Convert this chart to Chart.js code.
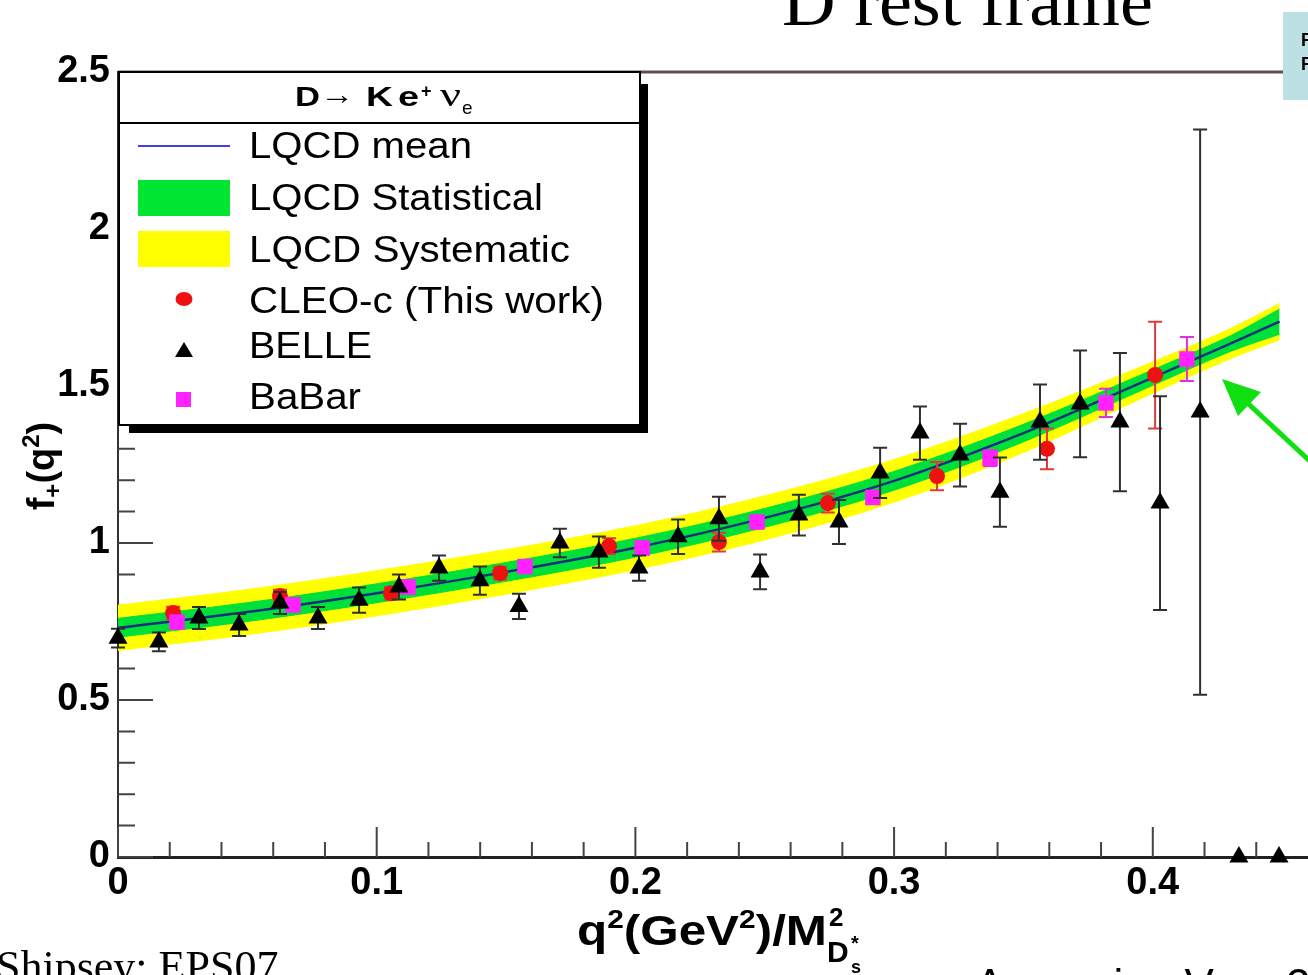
<!DOCTYPE html>
<html><head><meta charset="utf-8">
<script src="https://cdn.jsdelivr.net/npm/chart.js@4.4.1/dist/chart.umd.min.js"></script>
<style>
html,body{margin:0;padding:0;background:#fff;}
#wrap{position:relative;width:1308px;height:975px;overflow:hidden;background:#fff;}
#c{position:absolute;left:0;top:0;}
#ov{position:absolute;left:0;top:0;pointer-events:none;}
</style></head><body>
<div id="wrap">
<canvas id="c" width="1308" height="975"></canvas>
<svg id="ov" width="1308" height="975" xmlns="http://www.w3.org/2000/svg">
  <!-- slide texts -->
  <text x="782" y="25" font-family="'Liberation Serif','Times New Roman',serif" font-size="70" textLength="371" lengthAdjust="spacingAndGlyphs">D rest frame</text>
  <text x="-4" y="981" font-family="'Liberation Serif','Times New Roman',serif" font-size="44">Shipsey: EPS07</text>
  <text x="975" y="1000" font-family="'Liberation Sans',Arial,sans-serif" font-size="44">Averaging V<tspan font-size="28" dy="8">cs</tspan><tspan x="1286" dy="-8">2</tspan></text>
  <rect x="1283" y="12" width="30" height="88" fill="#bde0e4"/>
  <text x="1301" y="46" font-family="'Liberation Sans',Arial,sans-serif" font-weight="bold" font-size="18">F</text>
  <text x="1301" y="70" font-family="'Liberation Sans',Arial,sans-serif" font-weight="bold" font-size="18">F</text>
  <!-- arrow -->
  <line x1="1314" y1="465" x2="1240" y2="396" stroke="#10e010" stroke-width="5"/>
  <polygon points="1222,379 1238,416 1261,392" fill="#10e010"/>
  <!-- legend -->
  <rect x="129" y="84" width="519" height="349" fill="#000"/>
  <rect x="119" y="72" width="521" height="353" fill="#fff" stroke="#000" stroke-width="2"/>
  <line x1="119" y1="123" x2="640" y2="123" stroke="#000" stroke-width="2"/>
  <g font-family="'Liberation Sans',Arial,sans-serif" font-weight="bold" font-size="28">
    <text x="295" y="106" textLength="25" lengthAdjust="spacingAndGlyphs">D</text>
    <text x="320" y="104" font-weight="normal" textLength="34" lengthAdjust="spacingAndGlyphs">→</text>
    <text x="366" y="106" textLength="27" lengthAdjust="spacingAndGlyphs">K</text>
    <text x="398" y="106" textLength="21" lengthAdjust="spacingAndGlyphs">e</text>
    <text x="421" y="97" font-size="18">+</text>
    <text x="440" y="106" font-weight="normal" font-family="'Liberation Serif',serif" font-size="34" textLength="21" lengthAdjust="spacingAndGlyphs">ν</text>
    <text x="462" y="114" font-size="19" font-weight="normal">e</text>
  </g>
  <g font-family="'Liberation Sans',Arial,sans-serif" font-size="37">
    <text x="249" y="158" textLength="223" lengthAdjust="spacingAndGlyphs">LQCD mean</text>
    <text x="249" y="210" textLength="294" lengthAdjust="spacingAndGlyphs">LQCD Statistical</text>
    <text x="249" y="262" textLength="321" lengthAdjust="spacingAndGlyphs">LQCD Systematic</text>
    <text x="249" y="313" textLength="355" lengthAdjust="spacingAndGlyphs">CLEO-c (This work)</text>
    <text x="249" y="358" textLength="123" lengthAdjust="spacingAndGlyphs">BELLE</text>
    <text x="249" y="409" textLength="112" lengthAdjust="spacingAndGlyphs">BaBar</text>
  </g>
  <line x1="138" y1="146" x2="230" y2="146" stroke="#4040e0" stroke-width="2"/>
  <rect x="138" y="180" width="92" height="36" fill="#00e632"/>
  <rect x="138" y="231" width="92" height="36" fill="#ffff00"/>
  <ellipse cx="184" cy="299" rx="8.5" ry="7" fill="#ee1111"/>
  <polygon points="184,342 175,357 193,357" fill="#000"/>
  <rect x="176" y="392" width="15" height="15" fill="#ff22ff"/>
  <!-- axis titles -->
  <text transform="translate(54,466) rotate(-90)" text-anchor="middle" font-family="'Liberation Sans',Arial,sans-serif" font-weight="bold" font-size="38">f<tspan font-size="24" dy="7">+</tspan><tspan dy="-7">(q</tspan><tspan font-size="24" dy="-15">2</tspan><tspan dy="15">)</tspan></text>
  <g id="xtg" font-family="'Liberation Sans',Arial,sans-serif" font-weight="bold">
    <text id="xt" x="577" y="945" font-size="43" textLength="250" lengthAdjust="spacingAndGlyphs">q<tspan font-size="26" dy="-17">2</tspan><tspan dy="17">(GeV</tspan><tspan font-size="26" dy="-17">2</tspan><tspan dy="17">)/M</tspan></text>
  </g>
</svg>
</div>
<script>
// ---------- data ----------
const bandX     = [0, 0.05, 0.10, 0.15, 0.20, 0.25, 0.30, 0.35, 0.40, 0.43, 0.449];
const meanY     = [0.730, 0.780, 0.840, 0.908, 0.985, 1.080, 1.198, 1.350, 1.527, 1.635, 1.705];
const sysLow    = [0.658, 0.708, 0.768, 0.837, 0.915, 1.010, 1.130, 1.288, 1.477, 1.587, 1.647];
const sysHigh   = [0.802, 0.852, 0.912, 0.979, 1.055, 1.150, 1.266, 1.412, 1.577, 1.683, 1.763];
const statLow   = [0.700, 0.750, 0.810, 0.878, 0.955, 1.050, 1.168, 1.322, 1.502, 1.610, 1.665];
const statHigh  = [0.760, 0.810, 0.870, 0.938, 1.015, 1.110, 1.228, 1.378, 1.552, 1.660, 1.745];

const belleX = [0.000, 0.0158, 0.0313, 0.0468, 0.0626, 0.0773, 0.0932, 0.1086, 0.1241, 0.1399,
                0.1550, 0.1708, 0.1859, 0.2014, 0.2165, 0.2323, 0.2482, 0.2632, 0.2787, 0.2946,
                0.3100, 0.3255, 0.3409, 0.3564, 0.3719, 0.3873, 0.4028, 0.4183, 0.4333, 0.4488];
const belleY = [0.697, 0.685, 0.761, 0.739, 0.809, 0.761, 0.818, 0.860, 0.920, 0.880,
                0.798, 1.000, 0.971, 0.920, 1.020, 1.077, 0.908, 1.089, 1.067, 1.223,
                1.350, 1.280, 1.162, 1.385, 1.443, 1.385, 1.127, 1.417, 0, 0];
const belleErr = [0.03, 0.03, 0.035, 0.035, 0.035, 0.035, 0.04, 0.04, 0.04, 0.045,
                  0.04, 0.045, 0.05, 0.04, 0.055, 0.07, 0.055, 0.065, 0.07, 0.08,
                  0.085, 0.10, 0.11, 0.12, 0.17, 0.22, 0.34, 0.90, 0, 0];

const cleoX   = [0.0213, 0.0626, 0.1055, 0.1477, 0.1898, 0.2323, 0.2744, 0.3166, 0.3591, 0.4009];
const cleoY   = [0.777, 0.831, 0.840, 0.904, 0.990, 1.003, 1.127, 1.213, 1.300, 1.535];
const cleoErr = [0.02, 0.02, 0.02, 0.02, 0.025, 0.03, 0.03, 0.045, 0.065, 0.17];

const babarX   = [0.0228, 0.0676, 0.1121, 0.1573, 0.2026, 0.2470, 0.2918, 0.3371, 0.3819, 0.4132];
const babarY   = [0.748, 0.803, 0.860, 0.925, 0.984, 1.067, 1.145, 1.270, 1.446, 1.586];
const babarErr = [0.02, 0.02, 0.02, 0.02, 0.02, 0.02, 0.02, 0.025, 0.045, 0.07];

const xTickLabels = ['0', '0.1', '0.2', '0.3', '0.4'];
const yTickLabels = ['0', '0.5', '1', '1.5', '2', '2.5'];

// ---------- helpers ----------
const pts = (xs, ys) => xs.map((x, i) => ({x: x, y: ys[i]}));
const FONT = "'Liberation Sans', Arial, sans-serif";

const errorBars = {
  id: 'errorBars',
  beforeDatasetDraw(chart, args) {
    const ds = chart.data.datasets[args.index];
    if (!ds.errors) return;
    const ctx = chart.ctx, xs = chart.scales.x, ys = chart.scales.y;
    ctx.save();
    ctx.strokeStyle = ds.errorColor;
    ctx.lineWidth = 2;
    ds.data.forEach((p, i) => {
      const e = ds.errors[i];
      if (!e) return;
      const px = xs.getPixelForValue(p.x);
      const t = ys.getPixelForValue(p.y + e), b = ys.getPixelForValue(p.y - e);
      ctx.beginPath();
      ctx.moveTo(px, t); ctx.lineTo(px, b);
      ctx.moveTo(px - 7, t); ctx.lineTo(px + 7, t);
      ctx.moveTo(px - 7, b); ctx.lineTo(px + 7, b);
      ctx.stroke();
    });
    ctx.restore();
  }
};

const axisDecor = {
  id: 'axisDecor',
  beforeDatasetsDraw(chart) {
    const ctx = chart.ctx, a = chart.chartArea, xs = chart.scales.x, ys = chart.scales.y;
    ctx.save();
    ctx.strokeStyle = '#444';
    ctx.lineWidth = 2;
    ctx.beginPath();
    for (let i = 0; i <= 25; i++) {
      const p = ys.getPixelForValue(i / 10);
      const L = (i % 5 === 0) ? 35 : 17;
      ctx.moveTo(a.left, p); ctx.lineTo(a.left + L, p);
    }
    for (let i = 0; i <= 22; i++) {
      const v = i * 0.02;
      const p = xs.getPixelForValue(v);
      const L = (i % 5 === 0) ? 30 : 15;
      ctx.moveTo(p, a.bottom); ctx.lineTo(p, a.bottom - L);
    }
    ctx.stroke();
    ctx.restore();
  },
  afterDraw(chart) {
    const ctx = chart.ctx, a = chart.chartArea;
    ctx.save();
    ctx.strokeStyle = '#5e4f53';
    ctx.lineWidth = 3;
    ctx.beginPath();
    ctx.moveTo(a.left, a.top); ctx.lineTo(a.right, a.top);
    ctx.stroke();
    ctx.restore();
  }
};

const bandCommon = {pointRadius: 0, borderWidth: 1, cubicInterpolationMode: 'monotone'};

new Chart(document.getElementById('c'), {
  type: 'line',
  data: {
    datasets: [
      Object.assign({label: 'LQCD Systematic (low)', data: pts(bandX, sysLow), borderColor: '#ffff00', fill: false, order: 10}, bandCommon),
      Object.assign({label: 'LQCD Systematic', data: pts(bandX, sysHigh), borderColor: '#ffff00', backgroundColor: '#ffff00', fill: '-1', order: 9}, bandCommon),
      Object.assign({label: 'LQCD Statistical (low)', data: pts(bandX, statLow), borderColor: '#00e03a', fill: false, order: 8}, bandCommon),
      Object.assign({label: 'LQCD Statistical', data: pts(bandX, statHigh), borderColor: '#00e03a', backgroundColor: '#00e03a', fill: '-1', order: 7}, bandCommon),
      {label: 'LQCD mean', data: pts(bandX, meanY), borderColor: '#18307a', borderWidth: 2.5, pointRadius: 0, fill: false, cubicInterpolationMode: 'monotone', order: 6},
      {label: 'CLEO-c (This work)', data: pts(cleoX, cleoY), showLine: false, pointStyle: 'circle', pointRadius: 8,
       pointBackgroundColor: '#ee1111', pointBorderColor: '#ee1111', pointBorderWidth: 0,
       errors: cleoErr, errorColor: '#e03a3a', clip: false, order: 3},
      {label: 'BaBar', data: pts(babarX, babarY), showLine: false, pointStyle: 'rect', pointRadius: 11,
       pointBackgroundColor: '#ff22ff', pointBorderColor: '#ff22ff', pointBorderWidth: 0,
       errors: babarErr, errorColor: '#e030e0', clip: false, order: 2},
      {label: 'BELLE', data: pts(belleX, belleY), showLine: false, pointStyle: 'triangle', pointRadius: 11,
       pointBackgroundColor: '#000', pointBorderColor: '#000', pointBorderWidth: 0,
       errors: belleErr, errorColor: '#303030', clip: false, order: 1}
    ]
  },
  options: {
    responsive: false,
    animation: false,
    devicePixelRatio: 1,
    layout: {autoPadding: false, padding: {top: 72, right: 0, left: 0, bottom: 0}},
    plugins: {legend: {display: false}, tooltip: {enabled: false}},
    scales: {
      x: {
        type: 'linear', min: 0, max: 0.46,
        grid: {display: false, drawTicks: false},
        border: {display: true, color: '#222', width: 3},
        ticks: {stepSize: 0.1, includeBounds: false, padding: 4, color: '#000', maxRotation: 0,
                font: {family: FONT, size: 38, weight: 'bold'},
                callback: (v, i) => xTickLabels[i]},
        afterFit: s => { s.height = 118; }
      },
      y: {
        type: 'linear', min: 0, max: 2.5,
        grid: {display: false, drawTicks: false},
        border: {display: true, color: '#333', width: 2},
        ticks: {stepSize: 0.5, padding: 8, color: '#000',
                font: {family: FONT, size: 38, weight: 'bold'},
                callback: (v, i) => yTickLabels[i]},
        afterFit: s => { s.width = 118; }
      }
    }
  },
  plugins: [errorBars, axisDecor]
});

// x-axis title sub/superscripts after "M"
(function () {
  const ns = 'http://www.w3.org/2000/svg';
  const g = document.getElementById('xtg');
  const end = 577 + 250;
  function t(txt, x, y, size) {
    const e = document.createElementNS(ns, 'text');
    e.setAttribute('x', x); e.setAttribute('y', y); e.setAttribute('font-size', size);
    e.textContent = txt; g.appendChild(e);
  }
  t('2', end + 2, 926, 26);
  t('D', end, 962, 30);
  t('*', end + 24, 950, 20);
  t('s', end + 24, 973, 18);
})();
</script>
</body></html>
